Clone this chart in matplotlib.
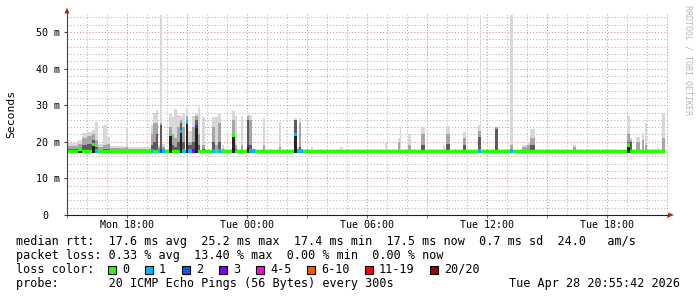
import numpy as np
import matplotlib
matplotlib.use("Agg")
from matplotlib import pyplot as plt
from matplotlib.patches import Rectangle, Polygon
from matplotlib.transforms import ScaledTranslation

plt.rcParams['font.family'] = 'DejaVu Sans Mono'

#---- Data (time in hours since Mon 15:00, values in ms)

hour_ticks = [3, 9, 15, 21, 27]
hour_labels = ['Mon 18:00', 'Tue 00:00', 'Tue 06:00', 'Tue 12:00', 'Tue 18:00']
ms_ticks = [0, 10, 20, 30, 40, 50]
ms_labels = ['0', '10 m', '20 m', '30 m', '40 m', '50 m']

base_med = 17.5
data_end = 29.9

# smoke events: start/end (h), light/mid/dark smoke top, median, loss class
ev_t0 = [0.00, 0.55, 0.75, 1.00, 1.25, 1.40, 1.55, 1.80, 2.00, 2.15, 2.95, 3.05,
         4.20, 4.30, 4.45, 4.55, 4.65, 4.75, 5.10, 5.25, 5.35, 5.50, 5.65, 5.75,
         5.95, 6.05, 6.25, 6.40, 6.55, 6.75, 7.25, 7.40, 7.55, 7.75, 8.25, 8.40,
         8.70, 9.00, 9.10, 9.25, 9.80, 10.60, 11.35, 11.50, 11.60, 11.70, 12.20,
         13.65, 15.90, 16.55, 16.65, 17.05, 17.70, 18.80, 18.95, 19.80, 20.55,
         20.65, 21.40, 22.15, 22.75, 23.00, 23.15, 25.30, 28.00, 28.15, 28.45,
         28.75, 28.90, 29.50, 29.75]
ev_t1 = [0.55, 0.75, 1.00, 1.25, 1.40, 1.55, 1.80, 2.00, 2.15, 2.95, 3.05, 4.20,
         4.30, 4.45, 4.55, 4.65, 4.75, 4.90, 5.25, 5.35, 5.50, 5.65, 5.75, 5.90,
         6.05, 6.25, 6.40, 6.55, 6.65, 6.90, 7.40, 7.55, 7.70, 7.85, 8.40, 8.50,
         8.80, 9.10, 9.25, 9.40, 9.90, 10.70, 11.50, 11.60, 11.70, 11.80, 12.30,
         13.80, 16.00, 16.65, 16.70, 17.20, 17.90, 18.90, 19.15, 19.95, 20.65,
         20.72, 21.55, 22.30, 23.00, 23.15, 23.40, 25.45, 28.15, 28.25, 28.65,
         28.85, 29.00, 29.55, 29.90]
ev_light = [19.8, 20.5, 22.4, 22.8, 23.2, 25.5, 19.5, 24.6, 21.4, 18.9, 24.1, 18.6,
            24.6, 27.8, 28.7, 19.0, 54.6, 19.5, 27.6, 26.7, 29.0, 27.4, 27.0, 28.0,
            29.3, 23.0, 27.0, 27.8, 29.6, 26.9, 26.7, 26.7, 27.6, 19.0, 28.5, 27.0,
            27.1, 27.6, 27.3, 18.0, 26.6, 25.5, 26.4, 18.5, 26.6, 18.0, 18.5,
            18.7, 19.6, 21.0, 24.1, 22.1, 24.1, 19.0, 24.3, 22.8, 24.6,
            54.6, 24.1, 54.6, 19.0, 20.0, 23.4, 19.1, 27.0, 21.0, 21.4,
            22.3, 25.0, 18.5, 27.9]
ev_mid = [18.8, 19.5, 21.0, 21.5, 22.0, 20.5, 18.5, 19.0, 19.5, 18.2, 18.5, 18.0,
          22.0, 25.0, 25.0, 18.5, 25.0, 18.5, 24.0, 22.0, 21.0, 24.0, 26.0, 24.0,
          27.0, 20.0, 24.0, 27.0, 22.0, 19.0, 24.0, 19.0, 25.0, 18.0, 26.0, 19.0,
          19.0, 27.0, 26.0, 17.5, 19.0, 18.5, 26.0, 18.0, 25.0, 17.5, 17.5,
          17.5, 17.5, 20.0, 17.5, 19.0, 22.0, 17.5, 22.0, 21.0, 23.0,
          23.0, 24.0, 19.0, 18.5, 19.0, 21.0, 18.5, 22.0, 20.5, 20.0,
          20.5, 19.0, 17.5, 21.0]
ev_dark = [18.0, 18.6, 19.0, 19.5, 20.5, 18.5, 17.5, 18.0, 18.0, 17.5, 17.5, 17.5,
           19.0, 20.0, 22.0, 18.0, 24.6, 18.0, 21.9, 19.0, 18.5, 20.0, 25.0, 20.0,
           25.5, 19.0, 20.0, 26.0, 19.0, 18.0, 20.0, 17.5, 20.0, 17.5, 21.8, 18.0,
           17.5, 26.0, 19.0, 17.5, 17.5, 17.5, 26.0, 17.5, 18.5, 17.5, 17.5,
           17.5, 17.5, 17.5, 17.5, 17.5, 19.0, 17.5, 19.5, 19.0, 21.4,
           21.4, 23.5, 17.5, 17.5, 17.5, 19.0, 17.5, 20.0, 20.0, 17.5,
           17.5, 17.5, 17.5, 17.5]
ev_med = [17.5, 18.0, 17.5, 17.5, 19.3, 17.5, 17.5, 17.5, 17.5, 17.5, 17.5, 17.5,
          17.5, 17.5, 17.5, 17.5, 17.5, 17.5, 21.9, 17.5, 17.5, 17.5, 22.8, 17.5,
          25.4, 17.5, 17.5, 24.1, 17.5, 17.5, 17.5, 17.5, 17.5, 17.5, 21.8, 17.5,
          17.5, 18.7, 17.5, 17.5, 17.5, 17.5, 21.9, 17.5, 17.5, 17.5, 17.5,
          17.5, 17.5, 17.5, 17.5, 17.5, 17.5, 17.5, 17.5, 17.5, 17.5,
          17.5, 17.5, 17.5, 17.5, 17.5, 17.5, 17.5, 19.1, 17.5, 17.5,
          17.5, 17.5, 17.5, 17.5]
ev_loss = [0, 0, 0, 0, 0, 1, 0, 0, 0, 0, 0, 0,
           1, 0, 0, 1, 2, 1, 0, 0, 0, 0, 1, 1,
           1, 1, 3, 3, 0, 0, 1, 0, 1, 0, 0, 0,
           0, 3, 1, 1, 0, 0, 1, 1, 1, 1, 0,
           0, 0, 0, 0, 0, 0, 0, 0, 0, 1,
           1, 0, 1, 0, 0, 0, 0, 0, 0, 0,
           0, 0, 0, 0]

loss_labels = ['0', '1', '2', '3', '4-5', '6-10', '11-19', '20/20']
loss_colors = ['#26ff00', '#00b8ff', '#0059ff', '#7e00ff',
               '#ff00ea', '#ff5500', '#ff0000', '#a10000']

rtt_line = 'median rtt:  17.6 ms avg  25.2 ms max  17.4 ms min  17.5 ms now  0.7 ms sd  24.0   am/s'
loss_line = 'packet loss: 0.33 % avg  13.40 % max  0.00 % min  0.00 % now'
probe_line = 'probe:       20 ICMP Echo Pings (56 Bytes) every 300s'
stamp_text = 'Tue Apr 28 20:55:42 2026'

#---- Figure

W, H = 697, 297
fig = plt.figure(figsize=(W / 100, H / 100), dpi=100)
fig.patch.set_facecolor('white')

ax = fig.add_axes([67 / W, 82 / H, 601 / W, 203 / H])
ax.set_xlim(0, 30.05)
ax.set_ylim(0, 55.46)

minor_c = '#b4b4b4'
major_c = '#dc8a8a'
for h in range(1, 31):
    ax.axvline(h, color=major_c if h % 3 == 0 else minor_c, lw=0.75,
               ls=(0, (1, 2)), zorder=0.5)
for v in range(2, 56, 2):
    ax.axhline(v, color=major_c if v % 10 == 0 else minor_c, lw=0.75,
               ls=(0, (1, 2)), zorder=0.5)

t0 = np.array(ev_t0)
wd = np.array(ev_t1) - t0
med = np.array(ev_med)
loss = np.array(ev_loss)

# smoke
for tops, col in [(ev_light, '#d8d8d8'), (ev_mid, '#a6a6a6'), (ev_dark, '#5c5c5c')]:
    tops = np.array(tops)
    ax.bar(t0, tops - base_med, width=wd, bottom=base_med, align='edge',
           color=col, lw=0, zorder=2)

# median band
ax.hlines(base_med, 0, data_end, color=loss_colors[0], lw=2.4, zorder=3)
raised = np.abs(med - base_med) > 0.05
ax.bar(t0[raised], med[raised] - 17.0, width=wd[raised], bottom=17.0,
       align='edge', color='#242424', lw=0, zorder=3.5)
mark = raised | (loss > 0)
ax.bar(t0[mark], 0.9, width=wd[mark], bottom=med[mark] - 0.45, align='edge',
       color=[loss_colors[k] for k in loss[mark]], lw=0, zorder=4)

for s in ['top', 'right']:
    ax.spines[s].set_visible(False)
ax.spines['left'].set_color('#5a3a3a')
ax.spines['bottom'].set_color('#202020')
ax.spines['left'].set_linewidth(0.8)
ax.spines['bottom'].set_linewidth(0.8)
ax.spines['left'].set_zorder(5)
ax.spines['bottom'].set_zorder(5)

ax.set_xticks(hour_ticks, hour_labels)
ax.set_xticks([0, 6, 12, 18, 24, 30], minor=True)
ax.tick_params(axis='x', which='both', length=1.8, color='#d05050',
               labelsize=7.2, pad=1.6)
ax.set_yticks(ms_ticks, ms_labels)
ax.tick_params(axis='y', length=2.2, color='#5a3a3a', labelsize=7.2, pad=2.9)
# the zero label sits under the digit column of "50 m"
zero = ax.get_yticklabels()[0]
zero.set_transform(zero.get_transform() + ScaledTranslation(-0.12, 0, fig.dpi_scale_trans))

#---- Overlay in pixel coordinates for legend text

ov = fig.add_axes([0, 0, 1, 1], zorder=10)
ov.set_xlim(0, W)
ov.set_ylim(H, 0)
ov.axis('off')
ov.patch.set_alpha(0)

arrow_c = '#a02828'
ov.add_patch(Polygon([(64.5, 13.5), (69.5, 13.5), (67, 7.5)], closed=True,
                     color=arrow_c, lw=0))
ov.add_patch(Polygon([(668, 212.5), (668, 217.5), (674, 215)], closed=True,
                     color=arrow_c, lw=0))

fs = 8.5
ov.text(11, 114, 'Seconds', rotation=90, ha='center', va='center', fontsize=8.2)
ov.text(688, 60, 'RRDTOOL / TOBI OETIKER', rotation=270, ha='center',
        va='center', fontsize=6.0, color='#b8b8b8')

ov.text(16, 241, rtt_line, ha='left', va='center', fontsize=fs)
ov.text(16, 255.7, loss_line, ha='left', va='center', fontsize=fs)

ov.text(16, 269.5, 'loss color:', ha='left', va='center', fontsize=fs)
bx = 108
for lab, col in zip(loss_labels, loss_colors):
    ov.add_patch(Rectangle((bx, 265.5), 8, 8, facecolor=col, edgecolor='black', lw=0.8))
    ov.text(bx + 14, 269.5, lab, ha='left', va='center', fontsize=fs)
    bx = bx + 14 + 7 * len(lab) + 16

ov.text(16, 283.5, probe_line, ha='left', va='center', fontsize=fs)
ov.text(680, 283.5, stamp_text, ha='right', va='center', fontsize=fs)

plt.savefig('out.png', dpi=100)
